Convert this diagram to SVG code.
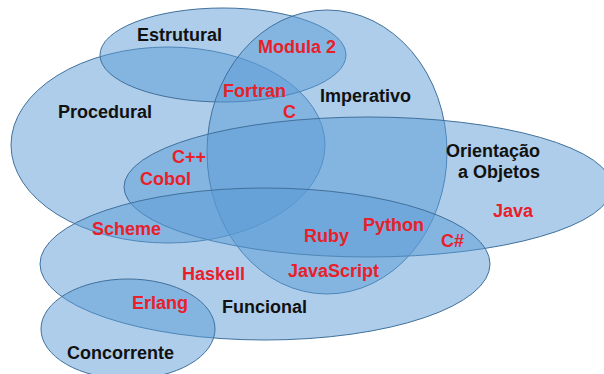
<svg xmlns="http://www.w3.org/2000/svg" width="604" height="374" viewBox="0 0 604 374">
  <style>
    .set { fill: #5b9bd5; fill-opacity: 0.5; stroke: #41719c; stroke-width: 1; }
    .lbl { font-family: "Liberation Sans", Arial, sans-serif; font-weight: bold; font-size: 18px; fill: #111; }
    .lang { font-family: "Liberation Sans", Arial, sans-serif; font-weight: bold; font-size: 18px; fill: #e8202a; }
  </style>
  <rect width="604" height="374" fill="#fff"/>
  <!-- paradigm sets -->
  <g id="procedural"><ellipse class="set" cx="168" cy="145" rx="157" ry="98"/></g>
  <g id="estrutural"><ellipse class="set" cx="223" cy="55" rx="123" ry="47"/></g>
  <g id="imperativo"><ellipse class="set" cx="327" cy="152" rx="120" ry="142"/></g>
  <g id="orientacao"><ellipse class="set" cx="368" cy="187" rx="244" ry="70"/></g>
  <g id="funcional"><ellipse class="set" cx="265" cy="264" rx="225" ry="76"/></g>
  <g id="concorrente"><ellipse class="set" cx="128" cy="329" rx="87" ry="50"/></g>
  <g id="connectors"></g>
  <!-- paradigm names -->
  <g id="labels">
    <text class="lbl" x="137" y="41">Estrutural</text>
    <text class="lbl" x="58" y="118">Procedural</text>
    <text class="lbl" x="320" y="102">Imperativo</text>
    <text class="lbl" x="446" y="157">Orientação</text>
    <text class="lbl" x="458" y="178">a Objetos</text>
    <text class="lbl" x="222" y="313">Funcional</text>
    <text class="lbl" x="67" y="359">Concorrente</text>
  </g>
  <!-- languages -->
  <g id="languages">
    <text class="lang" x="258" y="53">Modula 2</text>
    <text class="lang" x="223" y="97">Fortran</text>
    <text class="lang" x="283" y="118">C</text>
    <text class="lang" x="172" y="163">C++</text>
    <text class="lang" x="140" y="185">Cobol</text>
    <text class="lang" x="92" y="235">Scheme</text>
    <text class="lang" x="182" y="280">Haskell</text>
    <text class="lang" x="132" y="309">Erlang</text>
    <text class="lang" x="304" y="242">Ruby</text>
    <text class="lang" x="363" y="231">Python</text>
    <text class="lang" x="441" y="247">C#</text>
    <text class="lang" x="288" y="277">JavaScript</text>
    <text class="lang" x="493" y="217">Java</text>
  </g>
</svg>
